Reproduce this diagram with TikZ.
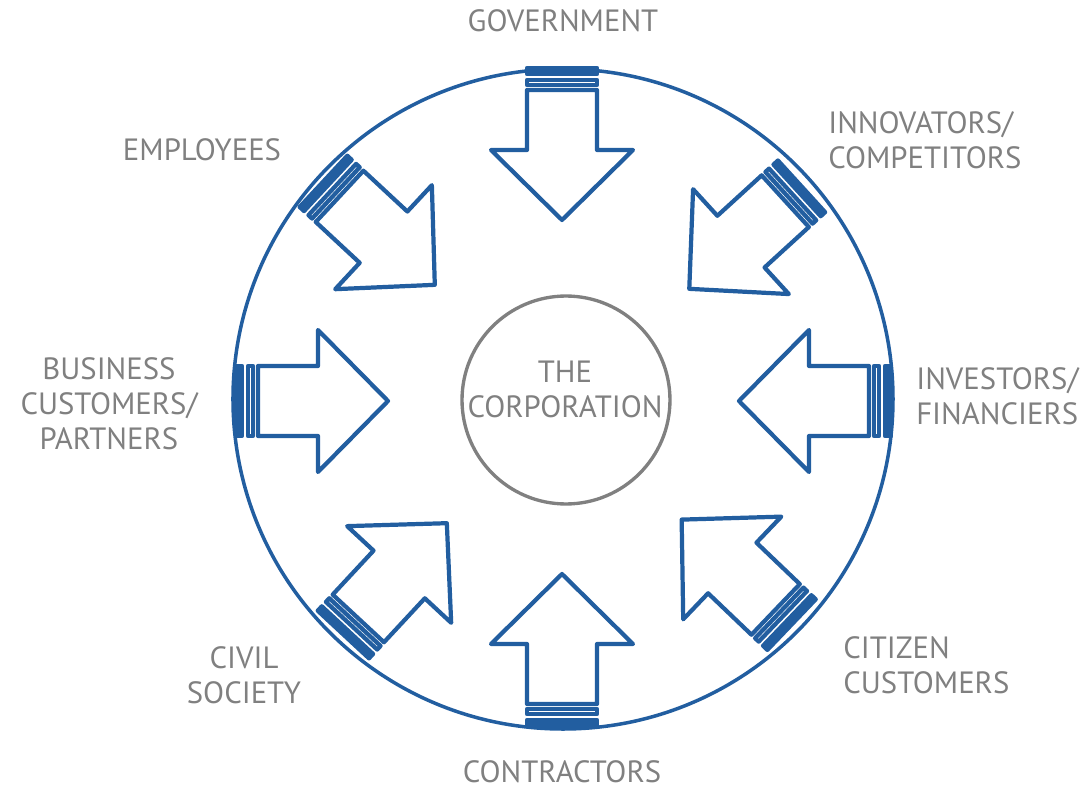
\documentclass[tikz,border=0pt]{standalone}
\usepackage{fontspec}
\setmainfont{PT Sans}
\usepackage{tikz}
\usetikzlibrary{positioning}
\definecolor{stakeblue}{RGB}{34,94,160}
\definecolor{labelgray}{RGB}{128,128,128}
\tikzset{
	stake/.style={line width=2.4pt,draw=stakeblue},
	stakelabel/.style={font=\fontsize{17.5}{20}\selectfont,text=labelgray,inner sep=0pt,align=center},
	corpcircle/.style={circle,draw=labelgray,line width=1.9pt,minimum size=4.16cm,inner sep=0pt}
}

\begin{document}
\begin{tikzpicture}[line cap=round,line join=round, x=0.02cm,y=0.02cm]
					\useasboundingbox (-563,-392) rectangle (526,399);
					\draw[line width=2pt,color=stakeblue] (0,0) circle (330);
					\node[corpcircle] (corp) at (3,-1) {};
					\node[stakelabel] (corptext) at (2,10) {THE\\CORPORATION};
					% arrows: tail x / tail y / direction
					\foreach \tx/\ty/\ang in {-1/333/-90,-1/-329/90,-329/-2/0,330/-2/180,-241/219/-42.9,240/214/-137.6,-221/-237/47.1,230/-227/136.3}
					{
					\begin{scope}[shift={(\tx,\ty)},rotate=\ang]
					\filldraw[stake,fill=stakeblue] (2,-35) rectangle (8,35);
					\draw[stake,fill=white] (14,-35) rectangle (19,35);
					\draw[stake,fill=white] (24,-35) -- (84,-35) -- (84,-71) -- (154,0) -- (84,71) -- (84,35) -- (24,35) -- cycle;
					\end{scope}
					}
					\node[stakelabel] (gov) at (0,378) {GOVERNMENT};
					\node[stakelabel] (empl) at (-361,249) {EMPLOYEES};
					\node[stakelabel,anchor=west,align=left] (innov) at (265,259) {INNOVATORS/\\COMPETITORS};
					\node[stakelabel] (business) at (-454,-5) {BUSINESS\\CUSTOMERS/\\PARTNERS};
					\node[stakelabel,anchor=west,align=left] (invest) at (353,3) {INVESTORS/\\FINANCIERS};
					\node[stakelabel] (civil) at (-319,-276) {CIVIL\\SOCIETY};
					\node[stakelabel,anchor=west,align=left] (citizen) at (280,-266) {CITIZEN\\CUSTOMERS};
					\node[stakelabel] (contr) at (-1,-373) {CONTRACTORS};
\end{tikzpicture}
\end{document}
